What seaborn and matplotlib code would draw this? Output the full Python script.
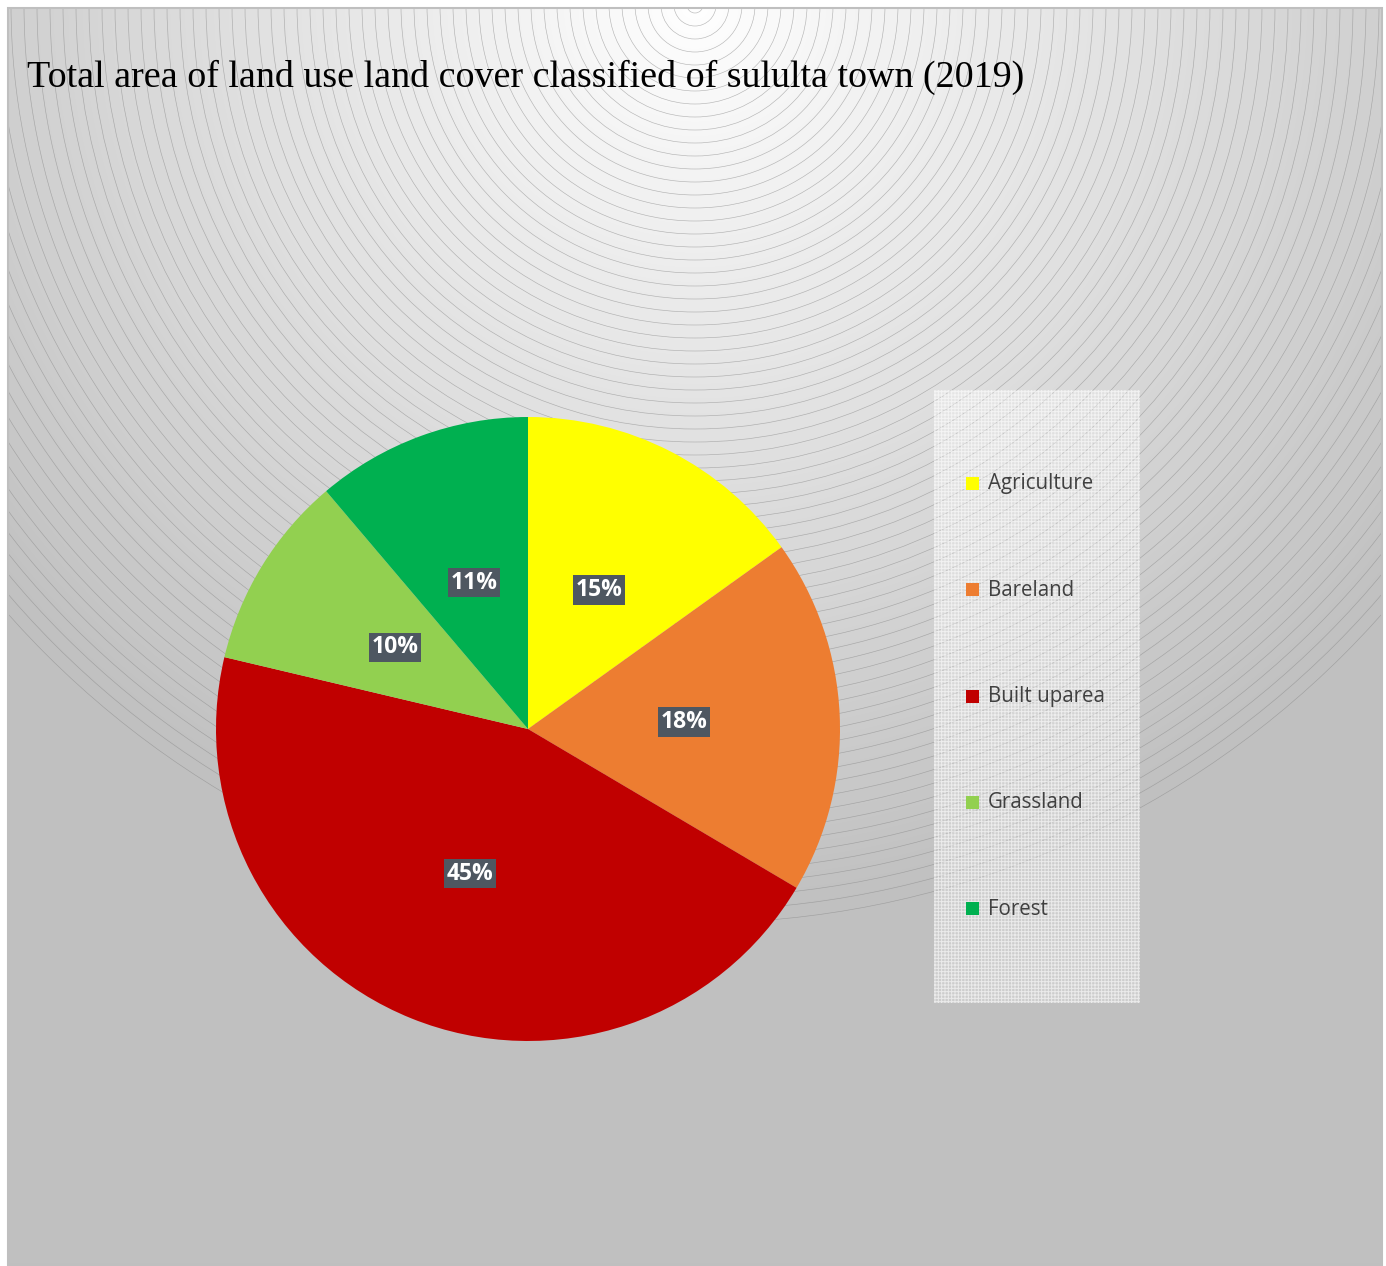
import numpy as np
import matplotlib
matplotlib.use("Agg")
import matplotlib.pyplot as plt
import seaborn as sns
from matplotlib.patches import Circle, Rectangle

# data
categories = ["Agriculture", "Bareland", "Built uparea", "Grassland", "Forest"]
shares = [15.1, 18.4, 45.2, 10.1, 11.2]
slice_colors = ["#FFFF00", "#ED7D31", "#C00000", "#92D050", "#00B050"]
title = "Total area of land use land cover classified of sululta town (2019)"

sns.set_theme(style="white")
plt.rcParams["font.family"] = ["Open Sans", "DejaVu Sans"]
plt.rcParams["hatch.linewidth"] = 0.7
palette = sns.color_palette(slice_colors)

W, H = 1386, 1266
fig = plt.figure(figsize=(W / 100, H / 100), dpi=100)
fig.patch.set_facecolor("white")

# background axes covering the chart area, in pixel coordinates
x0, x1, y0, y1 = 8, 1382, 8, 1265
bg = fig.add_axes([x0 / W, (H - y1) / H, (x1 - x0) / W, (y1 - y0) / H])
bg.set_xlim(x0, x1)
bg.set_ylim(y1, y0)
bg.axis("off")

# radial gradient
cx, cy, rmax = 695, 5, 918
xx, yy = np.meshgrid(np.arange(x0, x1) + 0.5, np.arange(y0, y1) + 0.5)
d = np.clip(np.hypot(xx - cx, yy - cy) / rmax, 0, 1)
grey = (255 - 63 * d) / 255.0
img = np.dstack([grey, grey, grey])
bg.imshow(img, extent=[x0, x1, y1, y0], interpolation="bilinear", aspect="auto", zorder=0)
bg.set_xlim(x0, x1)
bg.set_ylim(y1, y0)

# concentric rings
for r in np.arange(8, rmax + 1, 13):
    bg.add_patch(Circle((cx, cy), r, fill=False, ec="#8A8A8A", lw=0.45, alpha=0.6, zorder=1))

# outer frame
fig.add_artist(Rectangle((x0 / W, 1 - y1 / H), (x1 - x0) / W, (y1 - y0) / H,
                         transform=fig.transFigure, fill=False, ec="#BFBFBF", lw=1.5))

# title
fig.text(27 / W, 1 - 87 / H, title, family="Liberation Serif", fontsize=27.4,
         color="black", va="baseline", ha="left")

# legend box
bg.add_patch(Rectangle((934, 390), 206, 613, fc=(1, 1, 1, 0.22), ec="none", zorder=2))
bg.add_patch(Rectangle((934, 390), 206, 613, fc="none", ec=(1, 1, 1, 0.6), lw=0,
                       hatch="+++++", zorder=2))
for i, (name, col) in enumerate(zip(categories, palette)):
    yc = 484 + 106.3 * i
    bg.add_patch(Rectangle((966, yc - 7), 13, 13, fc=col, ec="none", zorder=3))
    bg.text(988, yc, name, fontsize=14.8, color="#404040", va="center", ha="left", zorder=3)

# pie
pcx, pcy, pr = 528, 729, 312
pax = fig.add_axes([(pcx - pr) / W, (H - pcy - pr) / H, 2 * pr / W, 2 * pr / H])
pax.axis("off")
wedges, texts, autotexts = pax.pie(
    shares, colors=palette, startangle=90, counterclock=False, radius=1,
    autopct="%1.0f%%", pctdistance=0.5,
    wedgeprops=dict(linewidth=0), frame=False,
    textprops=dict(color="white", fontsize=16.5, fontweight="bold"),
)
pax.set_xlim(-1, 1)
pax.set_ylim(-1, 1)
for t in autotexts:
    t.set_bbox(dict(boxstyle="square,pad=0.12", fc="#4E5761", ec="none"))

fig.savefig("out.png", dpi=100)
